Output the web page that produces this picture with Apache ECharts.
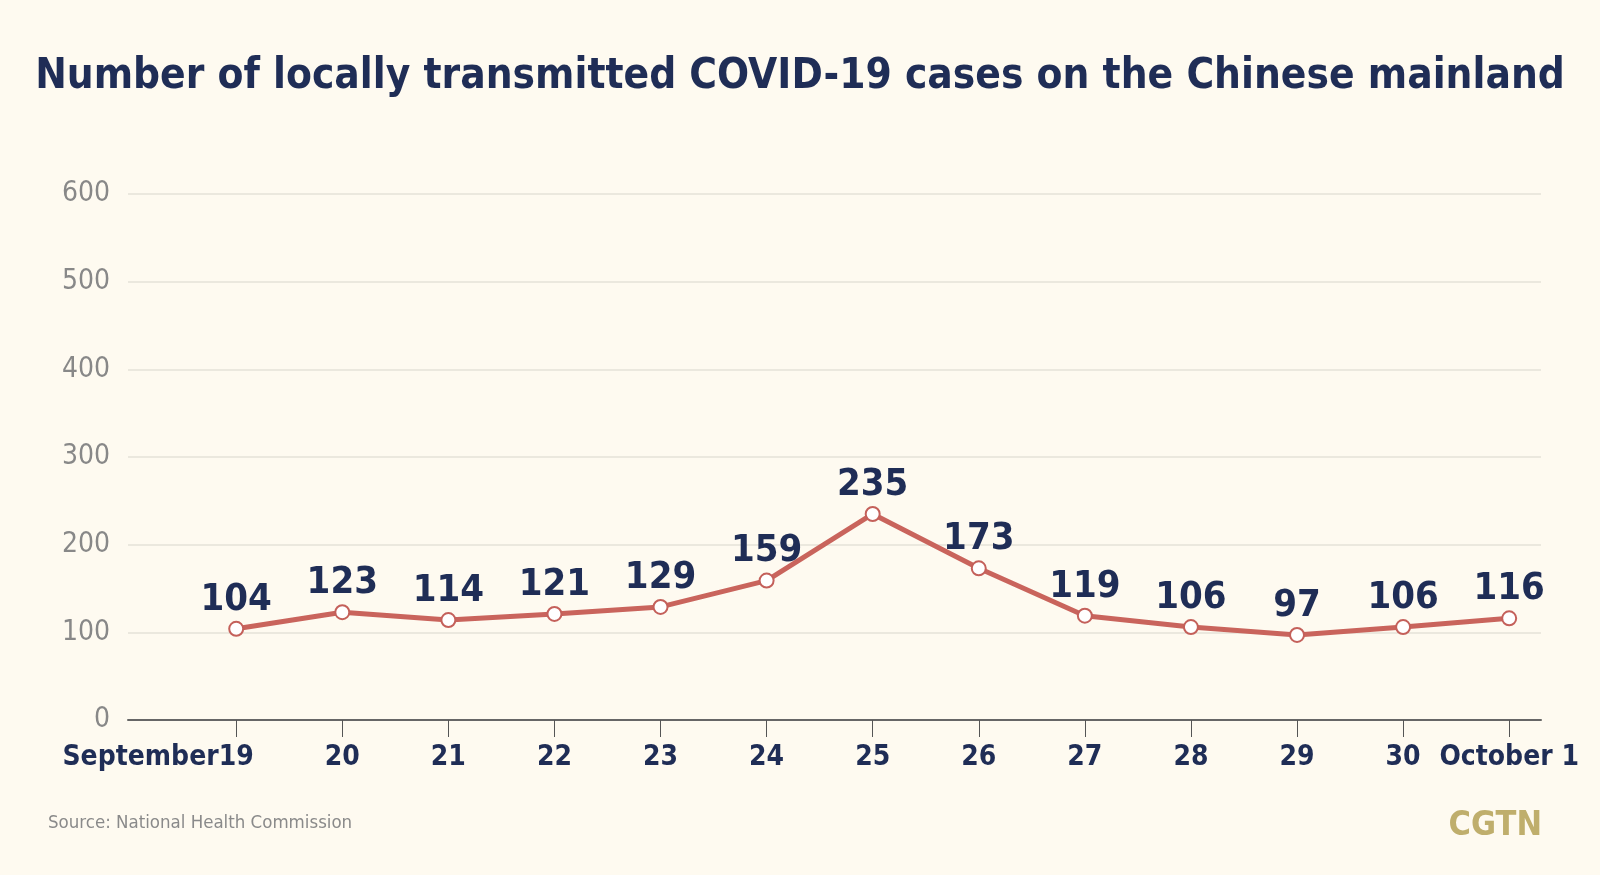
<!DOCTYPE html>
<html>
<head>
<meta charset="utf-8">
<script src="https://cdn.jsdelivr.net/npm/echarts@6/dist/echarts.min.js"></script>
<style>
html,body{margin:0;padding:0;background:#fefaf0;}
#chart{width:1600px;height:875px;}
</style>
</head>
<body>
<div id="chart"></div>
<script>
// ---- data ----
const days = ['19', '20', '21', '22', '23', '24', '25', '26', '27', '28', '29', '30', '1'];
const firstMonth = 'September';
const lastMonth = 'October';
const cases = [104, 123, 114, 121, 129, 159, 235, 173, 119, 106, 97, 106, 116];
const yTicks = [0, 100, 200, 300, 400, 500, 600];
const titleText = 'Number of locally transmitted COVID-19 cases on the Chinese mainland';
const sourceText = 'Source: National Health Commission';
const brandText = 'CGTN';

const COND = "'DejaVu Sans Condensed', 'Liberation Sans Narrow', 'Roboto', sans-serif";
const NAVY = '#1f2d56';
const idx = days.map((d, i) => i);
const seriesData = cases.map((v, i) => [i, v]);

const xLabelBase = {
  margin: 24,
  fontFamily: COND,
  fontWeight: 'bold',
  fontSize: 28,
  color: NAVY,
  hideOverlap: false
};

const chart = echarts.init(document.getElementById('chart'));
chart.setOption({
  backgroundColor: '#fefaf0',
  animation: false,
  title: {
    text: titleText,
    left: 'center',
    top: 51,
    textStyle: { fontFamily: COND, fontWeight: 'bold', fontSize: 42, color: NAVY }
  },
  grid: { left: 128, right: 59, top: 194, bottom: 155 },
  xAxis: [{
    type: 'value',
    min: -1.02,
    max: 12.3,
    splitLine: { show: false },
    axisLine: { show: true, lineStyle: { color: '#666', width: 2 } },
    axisTick: { show: true, customValues: idx, length: 17, lineStyle: { color: '#555', width: 1 } },
    axisLabel: Object.assign({}, xLabelBase, {
      customValues: idx.slice(1),
      formatter: function (v) {
        const i = Math.round(v);
        if (i === days.length - 1) return lastMonth + ' ' + days[i];
        return days[i];
      }
    })
  }, {
    type: 'value',
    position: 'bottom',
    min: -1.02,
    max: 12.3,
    splitLine: { show: false },
    axisLine: { show: false },
    axisTick: { show: false },
    axisLabel: Object.assign({}, xLabelBase, {
      customValues: [0],
      formatter: function (v) {
        return '{m|' + firstMonth + '}' + days[Math.round(v)] + '{t|' + firstMonth + '}';
      },
      rich: {
        m: { fontFamily: COND, fontWeight: 'bold', fontSize: 28, color: NAVY },
        t: { fontFamily: COND, fontWeight: 'bold', fontSize: 28, color: 'rgba(0,0,0,0)' }
      }
    })
  }],
  yAxis: {
    type: 'value',
    min: yTicks[0],
    max: yTicks[yTicks.length - 1],
    interval: 100,
    axisLine: { show: false },
    axisTick: { show: false },
    splitLine: { lineStyle: { color: '#ebe8de', width: 2 } },
    axisLabel: { margin: 18, fontFamily: COND, fontSize: 28, color: '#888', verticalAlign: 'middle', padding: [6, 0, 0, 0] }
  },
  series: [{
    type: 'line',
    data: seriesData,
    xAxisIndex: 0,
    symbol: 'circle',
    symbolSize: 14,
    lineStyle: { color: '#c9645c', width: 5 },
    itemStyle: { color: '#ffffff', borderColor: '#c4605a', borderWidth: 2 },
    label: {
      show: true,
      position: 'top',
      distance: 2,
      fontFamily: COND,
      fontWeight: 'bold',
      fontSize: 38,
      color: NAVY,
      formatter: p => p.value[1]
    },
    z: 3
  }],
  graphic: [
    { type: 'text', left: 48, top: 814, style: { text: sourceText, fontFamily: COND, fontSize: 18.5, fill: '#8a8a8a' } },
    { type: 'text', right: 58, top: 809, style: { text: brandText, fontFamily: COND, fontWeight: 'bold', fontSize: 34, fill: '#bfae6c' } }
  ]
});
</script>
</body>
</html>
